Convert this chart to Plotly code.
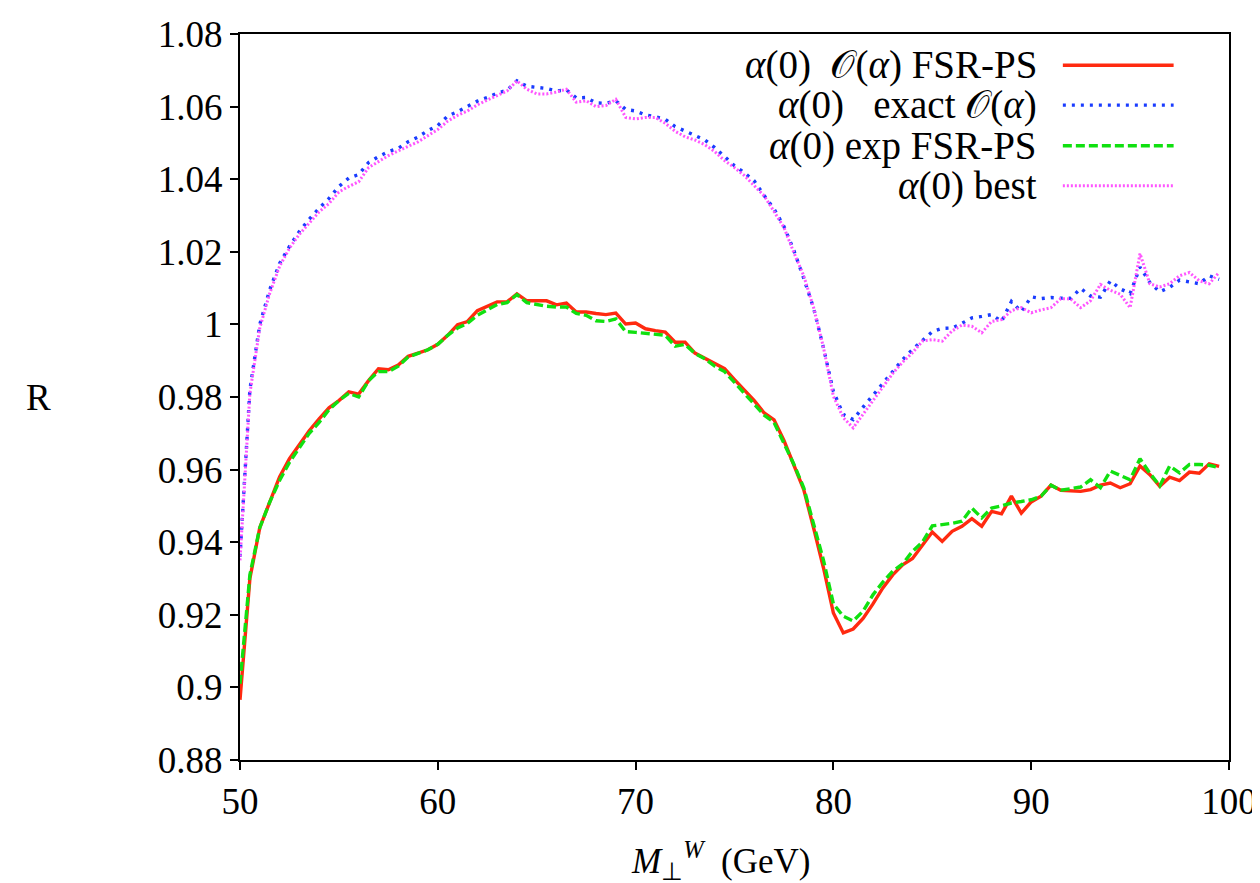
import numpy as np
import plotly.graph_objects as go

# x grid: M_perp^W in GeV (0.5 GeV steps)
mt = np.arange(50.0, 100.0, 0.5)

# alpha(0) O(alpha) FSR-PS  (red, solid)
r_ofsr = [0.8966, 0.930, 0.944, 0.951, 0.958, 0.963, 0.967, 0.9707, 0.974, 0.977,
          0.979, 0.9814, 0.9808, 0.9845, 0.9878, 0.9875, 0.9888, 0.9912, 0.9921, 0.993,
          0.9945, 0.997, 0.9999, 1.0008, 1.0038, 1.005, 1.0062, 1.0062, 1.0084, 1.0065,
          1.0065, 1.0065, 1.0054, 1.0059, 1.0034, 1.0034, 1.003, 1.0027, 1.0031, 1.0001,
          1.0004, 0.9988, 0.9983, 0.9979, 0.9951, 0.9951, 0.9921, 0.9906, 0.9891, 0.9878,
          0.9848, 0.982, 0.979, 0.9756, 0.9737, 0.968, 0.961, 0.9545, 0.9439, 0.9329,
          0.9205, 0.915, 0.9161, 0.919, 0.923, 0.9274, 0.931, 0.9338, 0.9355, 0.939,
          0.9428, 0.9402, 0.943, 0.9444, 0.9465, 0.9444, 0.9485, 0.9478, 0.9527, 0.948,
          0.9511, 0.9527, 0.9557, 0.9543, 0.9541, 0.954, 0.9545, 0.9557, 0.9563, 0.955,
          0.9561, 0.961, 0.9586, 0.9554, 0.9579, 0.957, 0.9593, 0.959, 0.9616, 0.9609]

# alpha(0) exact O(alpha)  (blue, dotted)
r_exact = [0.936, 0.982, 1.000, 1.0095, 1.0168, 1.0215, 1.0256, 1.029, 1.032, 1.0347,
           1.038, 1.0403, 1.0413, 1.0446, 1.0462, 1.0476, 1.0485, 1.0503, 1.0516, 1.0534,
           1.0548, 1.0574, 1.0586, 1.0601, 1.0615, 1.0625, 1.0637, 1.0645, 1.0671, 1.0656,
           1.0652, 1.065, 1.0643, 1.0646, 1.0624, 1.0625, 1.061, 1.0609, 1.0616, 1.0592,
           1.0588, 1.0577, 1.0572, 1.0565, 1.0545, 1.0532, 1.052, 1.0508, 1.0487, 1.0463,
           1.0437, 1.0418, 1.0395, 1.0355, 1.0318, 1.027, 1.0204, 1.0127, 1.0045, 0.9935,
           0.9815, 0.9752, 0.9738, 0.9772, 0.9805, 0.9838, 0.9868, 0.9903, 0.9931, 0.9955,
           0.998, 0.9989, 0.999, 1.0003, 1.0018, 1.0022, 1.0027, 1.0008, 1.0063, 1.0035,
           1.0076, 1.0071, 1.0074, 1.0072, 1.0072, 1.0099, 1.0078, 1.0075, 1.012, 1.0098,
           1.0085, 1.0158, 1.0115, 1.009, 1.0102, 1.0122, 1.0116, 1.0112, 1.0134, 1.0124]

# alpha(0) exp FSR-PS  (green, dashed)
r_expfsr = [0.901, 0.931, 0.944, 0.951, 0.957, 0.962, 0.966, 0.970, 0.973, 0.9765,
            0.979, 0.981, 0.980, 0.9845, 0.987, 0.987, 0.9885, 0.991, 0.992, 0.993,
            0.9945, 0.997, 0.999, 1.0003, 1.0025, 1.004, 1.0055, 1.006, 1.0082, 1.006,
            1.0055, 1.005, 1.0048, 1.0048, 1.003, 1.0025, 1.001, 1.0008, 1.0015, 0.998,
            0.9978, 0.9975, 0.9973, 0.997, 0.994, 0.9945, 0.992, 0.9905, 0.9885, 0.987,
            0.984, 0.981, 0.978, 0.975, 0.973, 0.9675, 0.9615, 0.955, 0.945, 0.935,
            0.923, 0.9196, 0.9183, 0.921, 0.9255, 0.929, 0.932, 0.934, 0.9375, 0.940,
            0.9445, 0.9448, 0.9452, 0.9458, 0.9494, 0.9467, 0.9494, 0.950, 0.9508, 0.9512,
            0.9517, 0.9527, 0.9557, 0.9543, 0.9547, 0.9552, 0.9572, 0.955, 0.9596, 0.9585,
            0.9572, 0.963, 0.959, 0.9555, 0.961, 0.9591, 0.9614, 0.9614, 0.9612, 0.9605]

# alpha(0) best  (magenta, fine dots)
r_best = [0.935, 0.981, 0.999, 1.0085, 1.016, 1.021, 1.0248, 1.028, 1.031, 1.0333,
          1.0365, 1.038, 1.0393, 1.0432, 1.0448, 1.0465, 1.0478, 1.049, 1.0503, 1.052,
          1.0537, 1.056, 1.0576, 1.0588, 1.0605, 1.0618, 1.063, 1.0643, 1.0671, 1.0648,
          1.0635, 1.0635, 1.064, 1.0648, 1.0612, 1.0616, 1.060, 1.0603, 1.062, 1.057,
          1.0566, 1.057, 1.057, 1.0554, 1.0532, 1.0517, 1.0508, 1.0495, 1.0476, 1.0451,
          1.0432, 1.041, 1.0382, 1.0354, 1.0311, 1.0267, 1.0198, 1.0134, 1.0046, 0.9936,
          0.9802, 0.9743, 0.9715, 0.9752, 0.9789, 0.9828, 0.9865, 0.9896, 0.9922, 0.9954,
          0.9958, 0.9954, 0.9982, 0.9998, 0.9995, 0.9977, 1.0008, 1.0013, 1.0038, 1.0046,
          1.0032, 1.004, 1.0046, 1.0071, 1.007, 1.0046, 1.0065, 1.011, 1.0094, 1.0083,
          1.0046, 1.0195, 1.0112, 1.0103, 1.0112, 1.0134, 1.0143, 1.012, 1.0112, 1.0143]

x_ticks = [50, 60, 70, 80, 90, 100]
y_ticks = [0.88, 0.90, 0.92, 0.94, 0.96, 0.98, 1.00, 1.02, 1.04, 1.06, 1.08]
y_ticktext = ["0.88", "0.9", "0.92", "0.94", "0.96", "0.98", "1", "1.02", "1.04", "1.06", "1.08"]

labels = ["<i>α</i>(0)  𝒪(<i>α</i>) FSR-PS",
          "<i>α</i>(0)   exact 𝒪(<i>α</i>)",
          "<i>α</i>(0) exp FSR-PS",
          "<i>α</i>(0) best"]

FONT = "Liberation Serif"
series = [
    (r_ofsr, "#ff2a10", "solid", 3.4),
    (r_exact, "#1a3cff", "3px,6px", 3.4),
    (r_expfsr, "#10e010", "9px,4px", 3.4),
    (r_best, "#ff55ff", "2px,2px", 3.0),
]

fig = go.Figure()
for i in [0, 2, 1, 3]:
    y, col, dash, w = series[i]
    fig.add_trace(go.Scatter(x=mt, y=y, mode="lines", showlegend=False,
                             line=dict(color=col, dash=dash, width=w)))

# gnuplot-style key: right-aligned text, sample line to the right
row_y = [0.957, 0.902, 0.846, 0.791]
for lab, (y, col, dash, w), ry in zip(labels, series, row_y):
    fig.add_annotation(xref="paper", yref="paper", x=0.808, y=ry, text=lab,
                       showarrow=False, xanchor="right", yanchor="middle",
                       font=dict(family=FONT, size=39, color="black"))
    fig.add_shape(type="line", xref="paper", yref="paper", x0=0.832, x1=0.944,
                  y0=ry, y1=ry, line=dict(color=col, dash=dash, width=w))

fig.add_annotation(xref="paper", yref="paper", x=0.486, y=-0.138,
                   text="<i>M</i><sub>⊥</sub><sup><i>W</i></sup>  (GeV)",
                   showarrow=False, xanchor="center", yanchor="middle",
                   font=dict(family=FONT, size=35, color="black"))
fig.add_annotation(xref="paper", yref="paper", x=-0.204, y=0.5, text="R",
                   showarrow=False, xanchor="center", yanchor="middle",
                   font=dict(family=FONT, size=37, color="black"))

axis_common = dict(showgrid=False, zeroline=False, showline=True, linecolor="black",
                   linewidth=2, mirror=True, ticks="outside", ticklen=8, tickwidth=2,
                   tickcolor="black", tickfont=dict(family=FONT, size=37, color="black"))
fig.update_xaxes(range=[50, 100], tickvals=x_ticks, **axis_common)
fig.update_yaxes(range=[0.88, 1.08], tickvals=y_ticks, ticktext=y_ticktext, **axis_common)

fig.update_layout(width=1260, height=883, plot_bgcolor="white", paper_bgcolor="white",
                  margin=dict(l=232, r=39, t=26, b=131, autoexpand=False),
                  font=dict(family=FONT, color="black"))

fig.write_html("out.html")
